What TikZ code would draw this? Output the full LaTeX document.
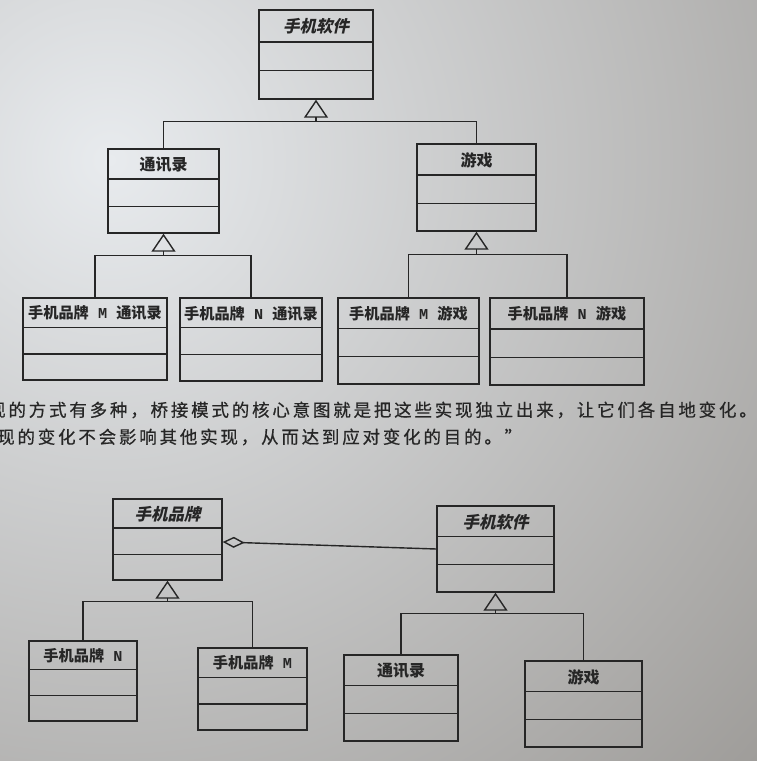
\documentclass[tikz,border=0pt]{standalone}
\usepackage{fontspec}
\setmonofont{Liberation Mono}
\newfontfamily\cjk{Noto Sans CJK SC}
\newfontfamily\cjkit[FakeSlant=0.22]{Noto Sans CJK SC}
\newfontfamily\cjktext[LetterSpace=16, FakeBold=0.6]{Noto Sans CJK SC}
\usetikzlibrary{arrows.meta, calc}

\definecolor{ink}{HTML}{262626}
\definecolor{paperhi}{RGB}{232,235,238}
\definecolor{paperlo}{RGB}{146,143,139}

\newcommand\lat[1]{{\ttfamily\bfseries\ #1\ }}
% one class box: name, centre, width, height, label style, label
\newcommand\umlbox[6]{%
  \node[cls, minimum width=#3, minimum height=#4] (#1) at (#2) {};
  \node[#5] (#1-t) at ($(#1.north)!0.19!(#1.south)$) {#6};
  \draw[wire] ($(#1.north west)!0.36!(#1.south west)$) -- ($(#1.north east)!0.36!(#1.south east)$);
  \draw[wire] ($(#1.north west)!0.68!(#1.south west)$) -- ($(#1.north east)!0.68!(#1.south east)$);
}

\tikzset{
  wire/.style={draw=ink, line width=1.4pt},
  cls/.style={wire, inner sep=0pt},
  ttl/.style={text=ink, inner sep=0pt, font=\cjk\bfseries\fontsize{16}{17}\selectfont},
  sub/.style={ttl, font=\cjk\bfseries\fontsize{15.2}{17}\selectfont},
  abs/.style={text=ink, inner sep=0pt, font=\cjkit\bfseries\fontsize{16.5}{17}\selectfont},
  body/.style={text=ink, inner sep=0pt, anchor=west, font=\cjktext\fontsize{17.5}{18}\selectfont},
  gen/.style={wire, {Triangle[open, length=18pt, width=24pt]}-},
  agg/.style={wire, {Diamond[open, length=22pt, width=11pt]}-}
}

\begin{document}
\begin{tikzpicture}[x=1pt, y=-1pt]
  \path[use as bounding box] (0,0) rectangle (757,761);
  \clip (0,0) rectangle (757,761);
  % paper
  \shade[inner color=paperhi, outer color=paperlo] (110,160) circle (1040);

  % upper diagram: software first, then brands
  \umlbox{softA}{316,54.5}{114}{89}{abs}{手机软件}
  \umlbox{contact}{163.5,191}{111}{84}{ttl}{通讯录}
  \umlbox{game}{476.5,187.5}{119}{87}{ttl}{游戏}
  \umlbox{mContact}{95,339}{144}{82}{sub}{手机品牌\lat{M}通讯录}
  \umlbox{nContact}{251,339.5}{142}{83}{sub}{手机品牌\lat{N}通讯录}
  \umlbox{mGame}{408.5,341}{141}{86}{sub}{手机品牌\lat{M}游戏}
  \umlbox{nGame}{567,341.5}{154}{87}{sub}{手机品牌\lat{N}游戏}

  \draw[gen] (softA.south) -- ++(0,22) coordinate (busA);
  \draw[wire] (contact.north) |- (busA) -| (game.north);
  \draw[gen] (contact.south) -- ++(0,22) coordinate (busB);
  \draw[wire] (mContact.north) |- (busB) -| (nContact.north);
  \draw[gen] (game.south) -- ++(0,23) coordinate (busC);
  \draw[wire] (mGame.north) |- (busC) -| (nGame.north);

  % text between the diagrams
  \node[body] (line1) at (-12,410) {现的方式有多种，桥接模式的核心意图就是把这些实现独立出来，让它们各自地变化。这};
  \node[body] (line2) at (-3,437) {现的变化不会影响其他实现，从而达到应对变化的目的。”};

  % lower diagram: brand holds software
  \umlbox{brand}{167.5,539.5}{109}{81}{abs}{手机品牌}
  \umlbox{softB}{495.5,549}{117}{86}{abs}{手机软件}
  \umlbox{brandN}{83,681}{108}{80}{sub}{手机品牌\lat{N}}
  \umlbox{brandM}{252.5,689}{109}{82}{sub}{手机品牌\lat{M}}
  \umlbox{contactB}{401,698}{114}{86}{ttl}{通讯录}
  \umlbox{gameB}{583.5,704}{117}{86}{ttl}{游戏}

  \coordinate (hold) at ($(brand.north east)!0.53!(brand.south east)$);
  \draw[agg] (hold) -- (softB.west);
  \draw[gen] (brand.south) -- ++(0,21) coordinate (busD);
  \draw[wire] (brandN.north) |- (busD) -| (brandM.north);
  \draw[gen] (softB.south) -- ++(0,21) coordinate (busE);
  \draw[wire] (contactB.north) |- (busE) -| (gameB.north);
\end{tikzpicture}
\end{document}
